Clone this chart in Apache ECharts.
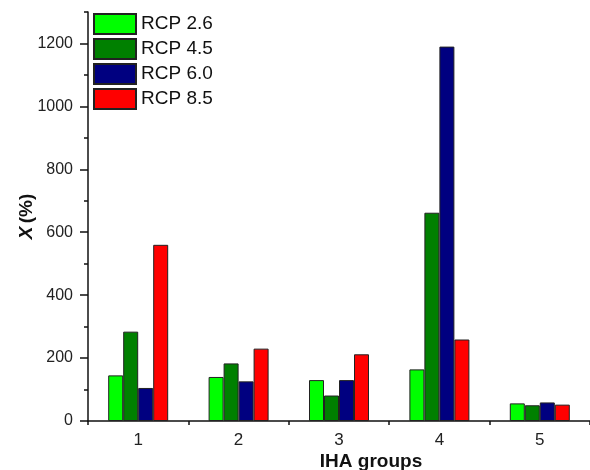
<!DOCTYPE html>
<html>
<head>
<meta charset="utf-8">
<script src="https://cdn.jsdelivr.net/npm/echarts@6/dist/echarts.min.js"></script>
<style>html,body{margin:0;padding:0;background:#fff}#c{width:590px;height:470px}</style>
</head>
<body>
<div id="c"></div>
<script>
const categories = ['1', '2', '3', '4', '5'];
const rcp26 = [145, 140, 130, 164, 56];
const rcp45 = [284, 183, 81, 662, 50];
const rcp60 = [105, 126, 130, 1190, 59];
const rcp85 = [560, 230, 212, 259, 52];
const seriesNames = ['RCP 2.6', 'RCP 4.5', 'RCP 6.0', 'RCP 8.5'];
const seriesColors = ['#00ff00', '#008000', '#000080', '#ff0000'];
const yMajorTicks = [0, 200, 400, 600, 800, 1000, 1200];
const yMinorTicks = [100, 300, 500, 700, 900, 1100, 1300];

const FONT = 'Liberation Sans, Arial, sans-serif';
const chart = echarts.init(document.getElementById('c'));
const data = [rcp26, rcp45, rcp60, rcp85];

chart.setOption({
  animation: false,
  backgroundColor: '#fff',
  textStyle: { fontFamily: FONT },
  legend: {
    left: 93, top: 13, orient: 'vertical', padding: 0,
    itemWidth: 42, itemHeight: 20, itemGap: 3,
    icon: 'rect',
    textStyle: { fontSize: 19, color: '#111', fontFamily: FONT },
    data: seriesNames
  },
  grid: { left: 88, right: 0, top: 12, bottom: 49, containLabel: false, outerBoundsMode: 'none' },
  xAxis: [
    {
      type: 'category', data: categories, boundaryGap: true,
      name: 'IHA groups', nameLocation: 'middle', nameGap: 31, nameMoveOverlap: false,
      nameTextStyle: { fontSize: 19, fontWeight: 'bold', color: '#111', fontFamily: FONT, padding: [0, 0, 0, 64] },
      axisLine: { lineStyle: { color: '#111', width: 1.5 } },
      axisTick: { alignWithLabel: true, interval: 0, length: 6, lineStyle: { color: '#111', width: 1.5 } },
      axisLabel: { fontSize: 17, color: '#222', margin: 11, fontFamily: FONT },
      splitLine: { show: false }
    },
    {
      type: 'category', data: categories, boundaryGap: true, position: 'bottom',
      axisLine: { show: false },
      axisTick: { show: true, interval: 0, length: 4, lineStyle: { color: '#111', width: 1.5 } },
      axisLabel: { show: false },
      splitLine: { show: false }
    }
  ],
  yAxis: [
    {
      type: 'value', min: 0, max: 1300, interval: 100,
      name: '{b|X} {n|(%)}', nameLocation: 'middle', nameGap: 52, nameRotate: 90, nameMoveOverlap: false,
      nameTextStyle: {
        rich: {
          b: { fontSize: 19, fontWeight: 'bold', fontStyle: 'italic', color: '#111', fontFamily: FONT },
          n: { fontSize: 19, fontWeight: 'bold', color: '#111', fontFamily: FONT }
        }
      },
      axisLine: { show: true, lineStyle: { color: '#111', width: 1.5 } },
      axisTick: { show: true, length: 8, customValues: yMajorTicks, lineStyle: { color: '#111', width: 1.5 } },
      axisLabel: { fontSize: 16, color: '#222', margin: 15, customValues: yMajorTicks, fontFamily: FONT,
                   formatter: v => String(v) },
      splitLine: { show: false }
    },
    {
      type: 'value', min: 0, max: 1300, interval: 100, position: 'left',
      axisLine: { show: false },
      axisTick: { show: true, length: 4, customValues: yMinorTicks, lineStyle: { color: '#111', width: 1.5 } },
      axisLabel: { show: false },
      splitLine: { show: false }
    }
  ],
  series: seriesNames.map((name, i) => ({
    name: name,
    type: 'bar',
    xAxisIndex: 0, yAxisIndex: 0,
    data: data[i],
    barWidth: 15,
    barGap: '0%',
    itemStyle: { color: seriesColors[i], borderColor: '#222', borderWidth: 1 }
  }))
});
</script>
</body>
</html>
